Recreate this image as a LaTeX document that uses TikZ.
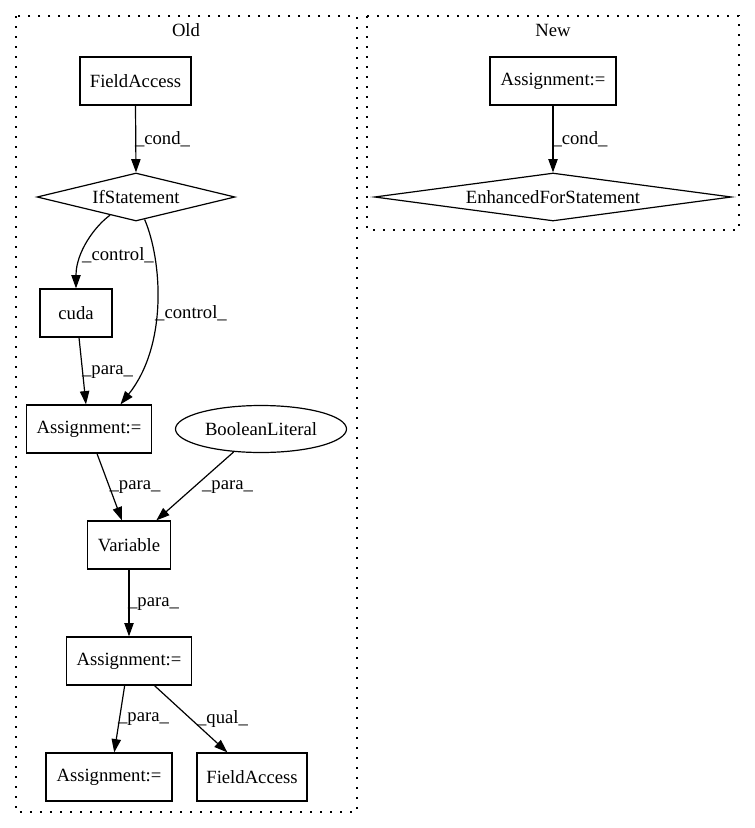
\documentclass[tikz,border=0pt]{standalone}
\usepackage{fontspec}
\setmainfont{Liberation Serif}
\usetikzlibrary{shapes.geometric,arrows.meta}
\begin{document}
\begin{tikzpicture}[x=0.75pt,y=-0.75pt,
  every node/.style={font=\fontsize{14pt}{16pt}\selectfont, inner sep=0pt},
  box/.style={draw, line width=0.9pt, rectangle, minimum height=36pt},
  cond/.style={draw, line width=0.9pt, diamond, minimum height=36pt},
  ellip/.style={draw, line width=0.9pt, ellipse, minimum height=35.25pt, minimum width=128.25pt},
  edge/.style={draw, line width=0.9pt, -{Triangle[length=10pt,width=7pt]}},
  lbl/.style={},
  cluster/.style={draw, line width=0.9pt, dash pattern=on 1.2pt off 6.3pt}
]
\useasboundingbox (0,0) rectangle (755,828);
% clusters
\draw[cluster] (16,16) rectangle (357,812);
\draw[cluster] (367,16) rectangle (739,230);
\node (oldt) at (186,30) {Old};
\node (newt) at (553,30) {New};
% Old nodes
\node[box, minimum width=83.25pt] (fa1) at (135.5,81) {FieldAccess};
\node[cond, minimum width=148.5pt, shape aspect=4.125] (if) at (136,197) {IfStatement};
\node[box, minimum width=54pt] (cuda) at (76,313) {cuda};
\node[box, minimum width=93.75pt] (a1) at (89,429) {Assignment:=};
\node[ellip] (bool) at (261,429) {BooleanLiteral};
\node[box, minimum width=62.25pt] (var) at (129,545) {Variable};
\node[box, minimum width=93.75pt] (a2) at (129,661) {Assignment:=};
\node[box, minimum width=94.5pt] (a3) at (109,777) {Assignment:=};
\node[box, minimum width=82.5pt] (fa2) at (252,777) {FieldAccess};
% New nodes
\node[box, minimum width=94.5pt] (na) at (553,81) {Assignment:=};
\node[cond, minimum width=267.75pt, shape aspect=7.44] (efs) at (553,197) {EnhancedForStatement};
% edges
\draw[edge] (fa1.south) -- (if.north);
\draw[edge] (if.215) .. controls (95,226) and (76,252) .. (cuda.north);
\draw[edge] (if.291) .. controls (162,260) and (168,345) .. (a1.38.7);
\draw[edge] (cuda.277) -- (a1.97);
\draw[edge] (a1.288.4) -- (var.106.3);
\draw[edge] (bool.220.6) -- (var.42.7);
\draw[edge] (var.south) -- (a2.north);
\draw[edge] (a2.260.5) -- (a3.78.2);
\draw[edge] (a2.316.2) -- (fa2.135);
\draw[edge] (na.south) -- (efs.north);
% edge labels
\node[lbl] (l1) at (162.5,139) {\_cond\_};
\node[lbl] (l2) at (118,255) {\_control\_};
\node[lbl] (l3) at (191,313) {\_control\_};
\node[lbl] (l4) at (107.5,372) {\_para\_};
\node[lbl] (l5) at (135,487) {\_para\_};
\node[lbl] (l6) at (227.5,487) {\_para\_};
\node[lbl] (l7) at (153.5,604) {\_para\_};
\node[lbl] (l8) at (143.5,719) {\_para\_};
\node[lbl] (l9) at (222.5,719) {\_qual\_};
\node[lbl] (l10) at (580,139) {\_cond\_};
\end{tikzpicture}
\end{document}
